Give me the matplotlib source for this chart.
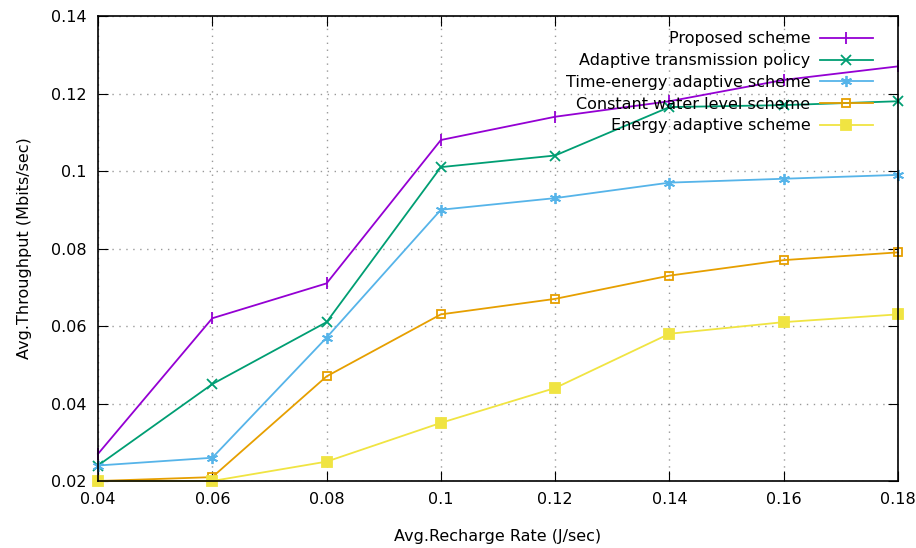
import matplotlib
matplotlib.use("Agg")
import matplotlib.pyplot as plt

x = [0.04, 0.06, 0.08, 0.10, 0.12, 0.14, 0.16, 0.18]
proposed = [0.027, 0.062, 0.071, 0.108, 0.114, 0.118, 0.1235, 0.127]
adaptive_tx = [0.024, 0.045, 0.061, 0.101, 0.104, 0.1165, 0.117, 0.118]
time_energy = [0.024, 0.026, 0.057, 0.090, 0.093, 0.097, 0.098, 0.099]
constant_wl = [0.020, 0.021, 0.047, 0.063, 0.067, 0.073, 0.077, 0.079]
energy_ad = [0.020, 0.020, 0.025, 0.035, 0.044, 0.058, 0.061, 0.063]
labels = ["Proposed scheme", "Adaptive transmission policy",
          "Time-energy adaptive scheme", "Constant water level scheme",
          "Energy adaptive scheme"]
xticks = [0.04, 0.06, 0.08, 0.10, 0.12, 0.14, 0.16, 0.18]
xticklabels = ["0.04", "0.06", "0.08", "0.1", "0.12", "0.14", "0.16", "0.18"]
yticks = [0.02, 0.04, 0.06, 0.08, 0.10, 0.12, 0.14]
yticklabels = ["0.02", "0.04", "0.06", "0.08", "0.1", "0.12", "0.14"]

plt.rcParams['font.family'] = ['DejaVu Sans']
fig = plt.figure(figsize=(9.16, 5.48), dpi=100)
ax = fig.add_axes([98/916, 67/548, 800/916, 465/548])

series = [proposed, adaptive_tx, time_energy, constant_wl, energy_ad]
colors = ["#9400D3", "#009E73", "#56B4E9", "#E69F00", "#F0E442"]
markers = ["|", "x", (6, 2, 0), "s", "s"]
mfc = ["none", "none", "none", "none", "#F0E442"]
msizes = [8, 7, 8, 6, 6.5]
for s, c, m, f, ms, lab in zip(series, colors, markers, mfc, msizes, labels):
    ax.plot(x, s, color=c, marker=m, markerfacecolor=f, markeredgecolor=c,
            markersize=ms, markeredgewidth=1.3, linewidth=1.3, label=lab,
            clip_on=False)

ax.set_xlim(0.04, 0.18)
ax.set_ylim(0.02, 0.14)
ax.set_xticks(xticks)
ax.set_xticklabels(xticklabels)
ax.set_yticks(yticks)
ax.set_yticklabels(yticklabels)
ax.tick_params(direction="in", top=True, right=True, length=7, labelsize=11.5, pad=8)
ax.grid(True, linestyle=(0, (1, 4)), color="#999999", linewidth=1)
for sp in ax.spines.values():
    sp.set_linewidth(1.2)
    sp.set_color("black")
ax.set_xlabel("Avg.Recharge Rate (J/sec)", fontsize=11.5, labelpad=16)
ax.set_ylabel("Avg.Throughput (Mbits/sec)", fontsize=11.5, labelpad=14)

leg = ax.legend(loc="upper right", frameon=False, markerfirst=False,
                fontsize=11.5, handlelength=3.3, labelspacing=0.42,
                bbox_to_anchor=(1 - 19/800, 1 - 9/465),
                borderaxespad=0.0, handletextpad=0.6)
for t in leg.get_texts():
    t.set_ha("right")
leg._legend_box.align = "right"

fig.savefig("out.png", dpi=100)
